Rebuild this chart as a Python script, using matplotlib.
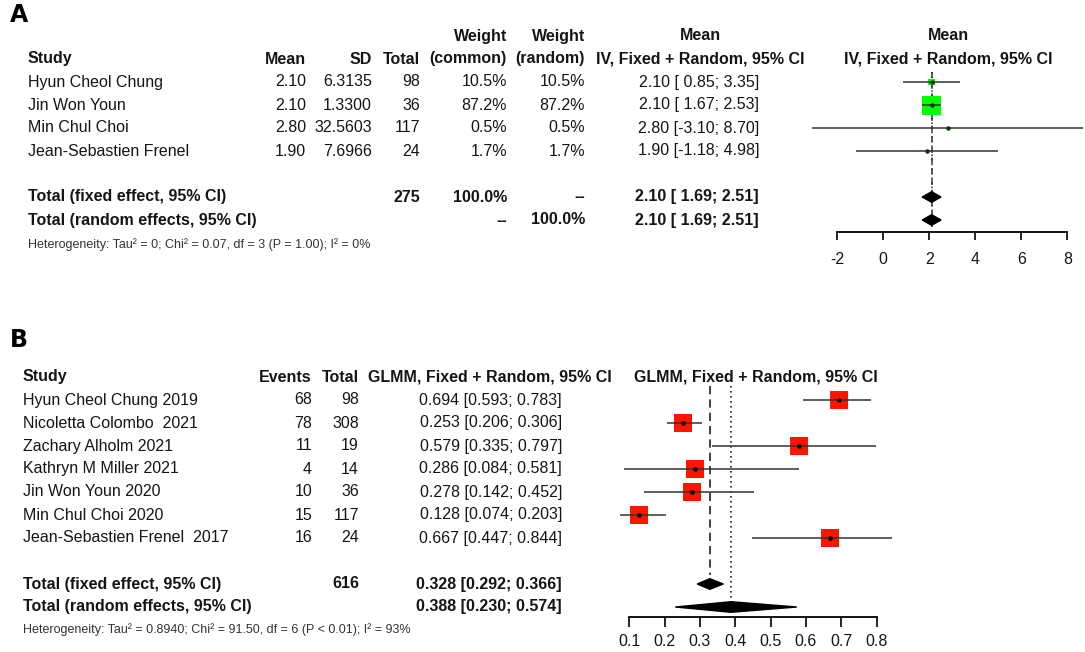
import numpy as np
import matplotlib
matplotlib.use('Agg')
import matplotlib.pyplot as plt
import matplotlib.transforms as mtransforms

plt.rcParams['font.family'] = ['Liberation Sans', 'DejaVu Sans']

# ---------------- 数据: A 面板 ----------------
a_studies = ['Hyun Cheol Chung', 'Jin Won Youn', 'Min Chul Choi', 'Jean-Sebastien Frenel']
a_mean = [2.10, 2.10, 2.80, 1.90]
a_sd = ['6.3135', '1.3300', '32.5603', '7.6966']
a_total = [98, 36, 117, 24]
a_w_common = [10.5, 87.2, 0.5, 1.7]
a_w_random = [10.5, 87.2, 0.5, 1.7]
a_lo = [0.85, 1.67, -3.10, -1.18]
a_hi = [3.35, 2.53, 8.70, 4.98]
a_fixed = (2.10, 1.69, 2.51)
a_random = (2.10, 1.69, 2.51)
a_total_n = 275
a_ticks = [-2, 0, 2, 4, 6, 8]
a_het = 'Heterogeneity: Tau² = 0; Chi² = 0.07, df = 3 (P = 1.00); I² = 0%'

# ---------------- 数据: B 面板 ----------------
b_studies = ['Hyun Cheol Chung 2019', 'Nicoletta Colombo  2021', 'Zachary Alholm 2021',
             'Kathryn M Miller 2021', 'Jin Won Youn 2020', 'Min Chul Choi 2020',
             'Jean-Sebastien Frenel  2017']
b_events = [68, 78, 11, 4, 10, 15, 16]
b_total = [98, 308, 19, 14, 36, 117, 24]
b_est = [0.694, 0.253, 0.579, 0.286, 0.278, 0.128, 0.667]
b_lo = [0.593, 0.206, 0.335, 0.084, 0.142, 0.074, 0.447]
b_hi = [0.783, 0.306, 0.797, 0.581, 0.452, 0.203, 0.844]
b_fixed = (0.328, 0.292, 0.366)
b_random = (0.388, 0.230, 0.574)
b_total_n = 616
b_ticks = [0.1, 0.2, 0.3, 0.4, 0.5, 0.6, 0.7, 0.8]
b_het = 'Heterogeneity: Tau² = 0.8940; Chi² = 91.50, df = 6 (P < 0.01); I² = 93%'

W, H = 1085, 652
FS = 11.5
TXT = '#151515'
fig = plt.figure(figsize=(W / 100, H / 100), dpi=100)


def px_axes(x0, x1, y0, y1):
    """按像素位置添加坐标轴"""
    return fig.add_axes([x0 / W, 1 - y1 / H, (x1 - x0) / W, (y1 - y0) / H])


def setup_axis(ax, ticks, axis_row, length, pad):
    for s in ['top', 'left', 'right']:
        ax.spines[s].set_visible(False)
    ax.spines['bottom'].set_position(('data', axis_row))
    ax.spines['bottom'].set_bounds(ticks[0], ticks[-1])
    ax.spines['bottom'].set_linewidth(1.3)
    ax.set_yticks([])
    ax.set_xticks(ticks)
    ax.tick_params(axis='x', direction='out', length=length, width=1.3, pad=pad,
                   labelsize=FS, colors=TXT)
    ax.patch.set_alpha(0)


def diamond(ax, row, est, lo, hi, h=0.23):
    ax.fill([lo, est, hi, est], [row, row - h, row, row + h], color='black',
            zorder=4, clip_on=False)


# ================= A =================
# 行 r 对应像素 y = 82 + 23 r；横轴 0 在 883.3px，每单位 23px
axA = px_axes(790, 1085, 25, 275)
axA.set_xlim((790 - 883.3) / 23, (1085 - 883.3) / 23)
axA.set_ylim((275 - 82) / 23, (25 - 82) / 23)
setup_axis(axA, a_ticks, 6.5, 6, 8.5)
axA.set_xticklabels([f'{t:g}' for t in a_ticks])
tA = mtransforms.blended_transform_factory(
    mtransforms.Affine2D().scale(1 / W, 1) + fig.transFigure, axA.transData)

rows_a = np.arange(len(a_studies))
wmax = max(a_w_random)
sides = [19 * 0.72 * np.sqrt(w / wmax) for w in a_w_random]
axA.scatter(a_mean, rows_a, marker='s', s=[s ** 2 for s in sides], color='#00ff00',
            linewidths=0, zorder=2, clip_on=False)
axA.hlines(rows_a, a_lo, a_hi, color='#333333', lw=1.1, zorder=3, clip_on=False)
axA.scatter(a_mean, rows_a, marker='o', s=5, color='#0a3a0a', zorder=4, clip_on=False)
axA.vlines(a_fixed[0], -0.45, 6.3, color='#333333', lw=1.1, linestyles=(0, (4, 3)), zorder=1)
axA.vlines(a_random[0], -0.45, 6.3, color='#333333', lw=1.1, linestyles=(0, (1, 2)), zorder=1)
diamond(axA, 5, a_fixed[0], a_fixed[1], a_fixed[2])
diamond(axA, 6, a_random[0], a_random[1], a_random[2])

fig.text(10 / W, 1 - 15 / H, 'A', fontsize=17, fontweight='bold', va='center', ha='left',
         family='DejaVu Sans')

kw = dict(transform=tA, fontsize=FS, color=TXT, va='center')
bkw = dict(kw, fontweight='bold')
# 表头
axA.text(507, -2, 'Weight', ha='right', **bkw)
axA.text(585, -2, 'Weight', ha='right', **bkw)
axA.text(700, -2, 'Mean', ha='center', **bkw)
axA.text(948, -2, 'Mean', ha='center', **bkw)
axA.text(28, -1, 'Study', ha='left', **bkw)
axA.text(306, -1, 'Mean', ha='right', **bkw)
axA.text(372, -1, 'SD', ha='right', **bkw)
axA.text(420, -1, 'Total', ha='right', **bkw)
axA.text(507, -1, '(common)', ha='right', **bkw)
axA.text(585, -1, '(random)', ha='right', **bkw)
axA.text(700, -1, 'IV, Fixed + Random, 95% CI', ha='center', **bkw)
axA.text(948, -1, 'IV, Fixed + Random, 95% CI', ha='center', **bkw)
for r in rows_a:
    axA.text(28, r, a_studies[r], ha='left', **kw)
    axA.text(306, r, f'{a_mean[r]:.2f}', ha='right', **kw)
    axA.text(372, r, a_sd[r], ha='right', **kw)
    axA.text(420, r, str(a_total[r]), ha='right', **kw)
    axA.text(507, r, f'{a_w_common[r]:.1f}%', ha='right', **kw)
    axA.text(585, r, f'{a_w_random[r]:.1f}%', ha='right', **kw)
    axA.text(759, r, f'{a_mean[r]:.2f} [{a_lo[r]:5.2f}; {a_hi[r]:.2f}]', ha='right', **kw)
axA.text(28, 5, 'Total (fixed effect, 95% CI)', ha='left', **bkw)
axA.text(420, 5, str(a_total_n), ha='right', **bkw)
axA.text(507, 5, '100.0%', ha='right', **bkw)
axA.text(585, 5, '--', ha='right', **bkw)
axA.text(759, 5, f'{a_fixed[0]:.2f} [{a_fixed[1]:5.2f}; {a_fixed[2]:.2f}]', ha='right', **bkw)
axA.text(28, 6, 'Total (random effects, 95% CI)', ha='left', **bkw)
axA.text(507, 6, '--', ha='right', **bkw)
axA.text(585, 6, '100.0%', ha='right', **bkw)
axA.text(759, 6, f'{a_random[0]:.2f} [{a_random[1]:5.2f}; {a_random[2]:.2f}]', ha='right', **bkw)
axA.text(28, 7.05, a_het, ha='left', transform=tA, fontsize=9, color='#333333', va='center')

# ================= B =================
# 行 r 对应像素 y = 400 + 23 r；0.1 在 629.3px，每单位 353.3px
axB = px_axes(600, 905, 355, 652)
axB.set_xlim(0.1 + (600 - 629.3) / 353.3, 0.1 + (905 - 629.3) / 353.3)
axB.set_ylim((652 - 400) / 23, (355 - 400) / 23)
setup_axis(axB, b_ticks, 9.42, 7, 5.5)
axB.set_xticklabels([f'{t:.1f}' for t in b_ticks])
tB = mtransforms.blended_transform_factory(
    mtransforms.Affine2D().scale(1 / W, 1) + fig.transFigure, axB.transData)

rows_b = np.arange(len(b_studies))
axB.scatter(b_est, rows_b, marker='s', s=(18 * 0.72) ** 2, color='#ff1400',
            linewidths=0, zorder=2)
axB.hlines(rows_b, b_lo, b_hi, color='#333333', lw=1.1, zorder=3)
axB.scatter(b_est, rows_b, marker='o', s=5, color='black', zorder=4)
axB.vlines(b_fixed[0], -0.6, 7.6, color='#222222', lw=1.2, linestyles=(0, (5, 3)), zorder=1)
axB.vlines(b_random[0], -0.6, 8.7, color='#222222', lw=1.2, linestyles=(0, (1, 2)), zorder=1)
diamond(axB, 8, b_fixed[0], b_fixed[1], b_fixed[2])
diamond(axB, 9, b_random[0], b_random[1], b_random[2])

fig.text(10 / W, 1 - 340 / H, 'B', fontsize=17, fontweight='bold', va='center', ha='left',
         family='DejaVu Sans')

kw = dict(transform=tB, fontsize=FS, color=TXT, va='center')
bkw = dict(kw, fontweight='bold')
axB.text(23, -1, 'Study', ha='left', **bkw)
axB.text(312, -1, 'Events', ha='right', **bkw)
axB.text(359, -1, 'Total', ha='right', **bkw)
axB.text(490, -1, 'GLMM, Fixed + Random, 95% CI', ha='center', **bkw)
axB.text(756, -1, 'GLMM, Fixed + Random, 95% CI', ha='center', **bkw)
for r in rows_b:
    axB.text(23, r, b_studies[r], ha='left', **kw)
    axB.text(312, r, str(b_events[r]), ha='right', **kw)
    axB.text(359, r, str(b_total[r]), ha='right', **kw)
    axB.text(562, r, f'{b_est[r]:.3f} [{b_lo[r]:.3f}; {b_hi[r]:.3f}]', ha='right', **kw)
axB.text(23, 8, 'Total (fixed effect, 95% CI)', ha='left', **bkw)
axB.text(359, 8, str(b_total_n), ha='right', **bkw)
axB.text(562, 8, f'{b_fixed[0]:.3f} [{b_fixed[1]:.3f}; {b_fixed[2]:.3f}]', ha='right', **bkw)
axB.text(23, 9, 'Total (random effects, 95% CI)', ha='left', **bkw)
axB.text(562, 9, f'{b_random[0]:.3f} [{b_random[1]:.3f}; {b_random[2]:.3f}]', ha='right', **bkw)
axB.text(23, 10, b_het, ha='left', transform=tB, fontsize=9, color='#333333', va='center')

fig.savefig('out.png', dpi=100, facecolor='white')
plt.close(fig)
